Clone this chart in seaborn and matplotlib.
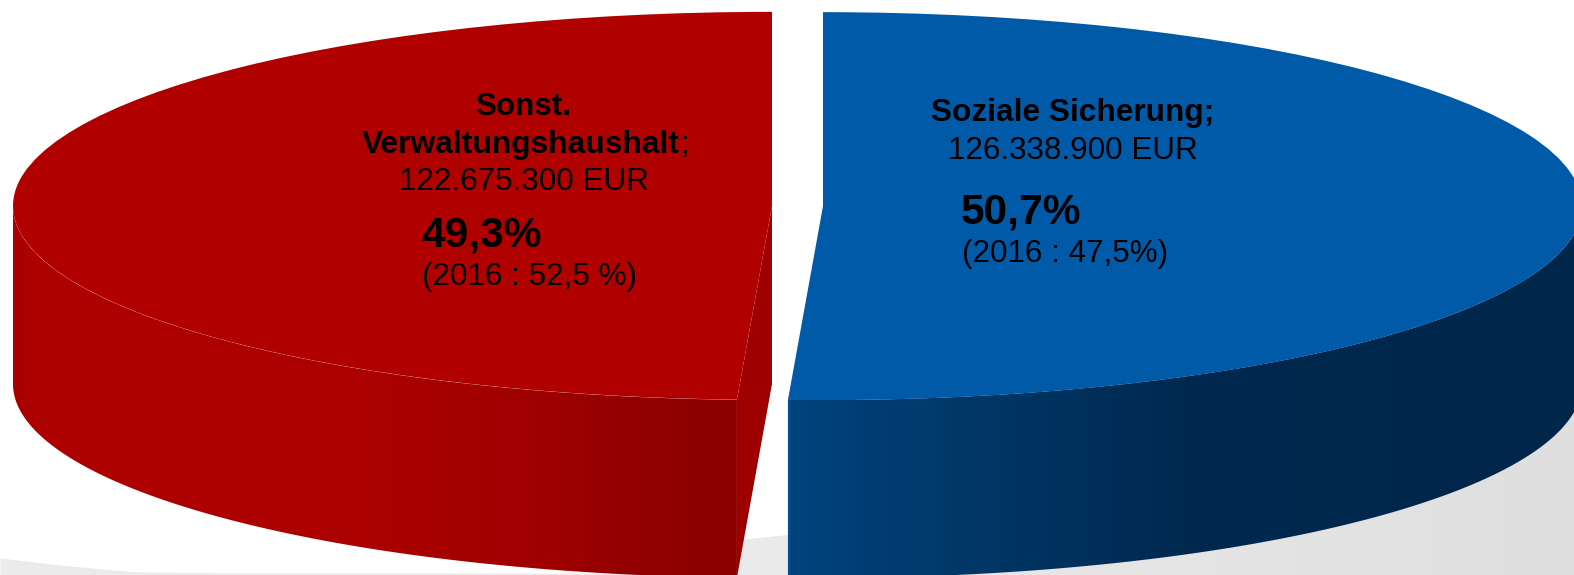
import numpy as np
import matplotlib
matplotlib.use("Agg")
import matplotlib.pyplot as plt
from matplotlib.colors import to_rgb
from matplotlib.patches import Polygon
import seaborn as sns

# budget shares 2017
labels = ["Soziale Sicherung", "Sonst. Verwaltungshaushalt"]
amounts = [126338900, 122675300]
colors = ["#005AA8", "#B00000"]
face_red = "#9E0000"

# side wall shading, x position in pixels and colour
blue_x = [787, 791, 820, 1000, 1200, 1574]
blue_c = ["#0A5290", "#00447F", "#004079", "#003564", "#00284E", "#00274A"]
red_x = [15, 25, 40, 300, 420, 550, 650, 737]
red_c = ["#A60000", "#AB0000", "#AE0000", "#AD0000", "#A80000", "#9E0000", "#900000", "#8C0000"]
shadow_x = [730, 1574]
shadow_c = ["#EBEBEB", "#DFDFDF"]

W, H = 1574, 575
RX, RY = 759, 194
MID_X, MID_Y = 797.5, 206
GAP = 25.5
DEPTH = 178

sns.set_theme(style="white")
plt.rcParams["font.family"] = ["Liberation Sans", "DejaVu Sans"]


def ux(x):
    return np.asarray(x, dtype=float) / RX


def uy(y):
    return (H - np.asarray(y, dtype=float)) / RY


def shaded(ax, poly, xs, cs, z):
    cols = np.arange(0, W)
    rgb = np.array([to_rgb(c) for c in cs])
    img = np.stack([np.interp(cols, xs, rgb[:, i]) for i in range(3)], axis=-1)[None, :, :]
    im = ax.imshow(img, extent=(ux(0), ux(W), uy(H), uy(0)), aspect="auto", zorder=z,
                   interpolation="nearest")
    im.set_clip_path(Polygon(poly, closed=True, transform=ax.transData))


def wall(cx, phi):
    top_x = ux(cx) + np.cos(phi)
    top_y = uy(MID_Y) + np.sin(phi)
    low_y = top_y - DEPTH / RY
    return np.column_stack([np.r_[top_x, top_x[::-1]], np.r_[top_y, low_y[::-1]]])


fig = plt.figure(figsize=(W / 100, H / 100), dpi=100)
ax = fig.add_axes([0, 0, 1, 1])

wedges, _ = ax.pie(amounts, colors=colors, startangle=90, counterclock=False,
                   center=(ux(MID_X), uy(MID_Y)), explode=[GAP / RX, GAP / RX], radius=1,
                   wedgeprops={"linewidth": 0, "zorder": 4})
ax.set_aspect("auto")

split = 90 - 360 * amounts[0] / sum(amounts)
blue_cx = MID_X + GAP
red_cx = MID_X - GAP

# shadow on the floor
ax.fill_between(ux([0, 60, 133, 250, 740]), uy([558, 565, 571.7, 573, 573]), uy(H + 5),
                color="#EBEBEB", linewidth=0, zorder=0.5)
shadow_top = [(730, 541), (788, 535), (1000, 490), (1574, 350), (1574, H + 5), (730, H + 5)]
shaded(ax, [(ux(x), uy(y)) for x, y in shadow_top], shadow_x, shadow_c, 0.6)

# side walls
phi_blue = np.radians(np.linspace(0, split, 200))
phi_red = np.radians(np.linspace(split, -180, 200))
shaded(ax, wall(blue_cx, phi_blue), blue_x, blue_c, 1)
shaded(ax, wall(red_cx, phi_red), red_x, red_c, 1)

# cut face of the red slice
ex = ux(red_cx) + np.cos(np.radians(split))
ey = uy(MID_Y) + np.sin(np.radians(split))
drop = DEPTH / RY
ax.fill([ux(red_cx), ex, ex, ux(red_cx)], [uy(MID_Y), ey, ey - drop, uy(MID_Y) - drop],
        color=face_red, linewidth=0, zorder=2)

ax.set_xlim(ux(0), ux(W))
ax.set_ylim(uy(H), uy(0))
ax.axis("off")


def put(x, y, s, size=22.6, bold=False):
    return ax.text(ux(x), uy(y), s, fontsize=size, fontweight="bold" if bold else "normal",
                   color="black", ha="left", va="baseline", zorder=6)


put(475, 115, "Sonst.", bold=True)
name = put(362, 153, "Verwaltungshaushalt", size=22.9, bold=True)
fig.canvas.draw()
end = name.get_window_extent(fig.canvas.get_renderer()).x1
put(end, 153, ";")
put(399, 190, "122.675.300 EUR")
put(421, 246, "49,3%", size=30.6, bold=True)
put(422, 285, "(2016 : 52,5 %)")

put(931, 121, "Soziale Sicherung;", size=22.8, bold=True)
put(948, 159, "126.338.900 EUR")
put(961, 223, "50,7%", size=30.6, bold=True)
put(962, 262, "(2016 : 47,5%)")

fig.savefig("out.png", dpi=100)
